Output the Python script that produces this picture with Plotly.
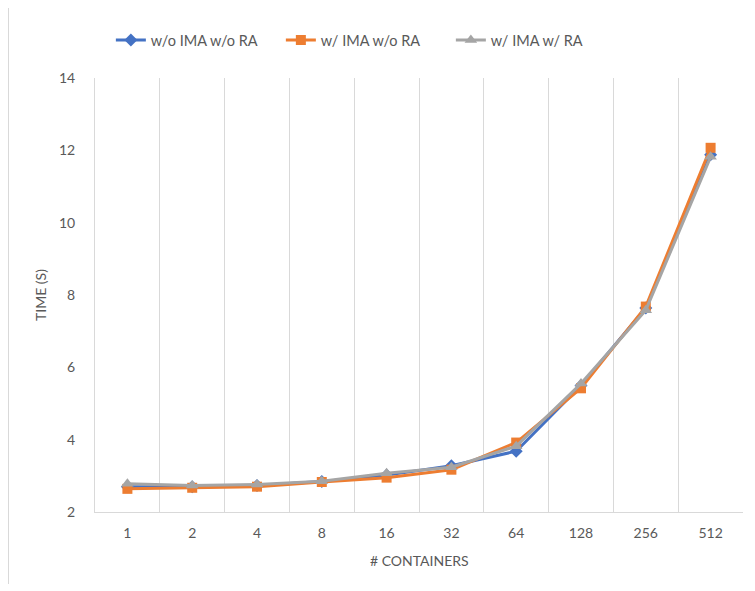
import plotly.graph_objects as go

categories = ["1", "2", "4", "8", "16", "32", "64", "128", "256", "512"]
wo_ima_wo_ra = [2.70, 2.70, 2.73, 2.84, 3.02, 3.28, 3.68, 5.50, 7.64, 11.88]
w_ima_wo_ra = [2.64, 2.67, 2.70, 2.83, 2.95, 3.17, 3.92, 5.42, 7.68, 12.07]
w_ima_w_ra = [2.78, 2.73, 2.76, 2.85, 3.07, 3.24, 3.82, 5.55, 7.58, 11.82]

font_family = "Lato, Open Sans, sans-serif"
txt = "#595959"

fig = go.Figure()
fig.add_trace(go.Scatter(x=categories, y=wo_ima_wo_ra, name="w/o IMA w/o RA",
                         mode="lines+markers",
                         line=dict(color="#4472C4", width=3),
                         marker=dict(symbol="diamond", size=10, color="#4472C4")))
fig.add_trace(go.Scatter(x=categories, y=w_ima_wo_ra, name="w/ IMA w/o RA",
                         mode="lines+markers",
                         line=dict(color="#ED7D31", width=3),
                         marker=dict(symbol="square", size=10, color="#ED7D31")))
fig.add_trace(go.Scatter(x=categories, y=w_ima_w_ra, name="w/ IMA w/ RA",
                         mode="lines+markers",
                         line=dict(color="#A5A5A5", width=3),
                         marker=dict(symbol="triangle-up", size=11, color="#A5A5A5")))

fig.update_layout(
    width=740, height=576,
    margin=dict(l=87, r=5, t=70, b=72, autoexpand=False),
    paper_bgcolor="white", plot_bgcolor="white",
    font=dict(family=font_family, size=14, color=txt),
    legend=dict(orientation="h", x=0.418, xanchor="center", y=1.0876, yanchor="middle",
                font=dict(size=14.5, color=txt), traceorder="normal", entrywidth=125),
    showlegend=True,
)
fig.update_xaxes(type="category", range=[-0.5, 9.5], tickson="boundaries", showgrid=True,
                 automargin=False, gridcolor="#d9d9d9", gridwidth=1, showline=True,
                 linecolor="#d9d9d9", mirror=False,
                 ticks="", tickfont=dict(size=14, color=txt), ticklabelstandoff=8)
fig.update_yaxes(range=[2, 14], dtick=2, showgrid=False, zeroline=False, automargin=False,
                 showline=True, linecolor="#d9d9d9", ticks="",
                 tickfont=dict(size=14, color=txt), ticklabelstandoff=16)
fig.add_annotation(text="TIME (S)", xref="paper", yref="paper", x=-0.0849, y=0.5,
                   textangle=-90, showarrow=False, font=dict(size=14, color=txt),
                   xanchor="center", yanchor="middle")
fig.add_annotation(text="# CONTAINERS", xref="paper", yref="paper", x=0.5, y=-0.1106,
                   showarrow=False, font=dict(size=14, color=txt),
                   xanchor="center", yanchor="middle")
fig.add_shape(type="line", xref="paper", yref="paper", x0=-0.1335, x1=-0.1335, y0=-0.2, y1=1.2,
              line=dict(color="#d9d9d9", width=1))

fig.write_html("out.html")
